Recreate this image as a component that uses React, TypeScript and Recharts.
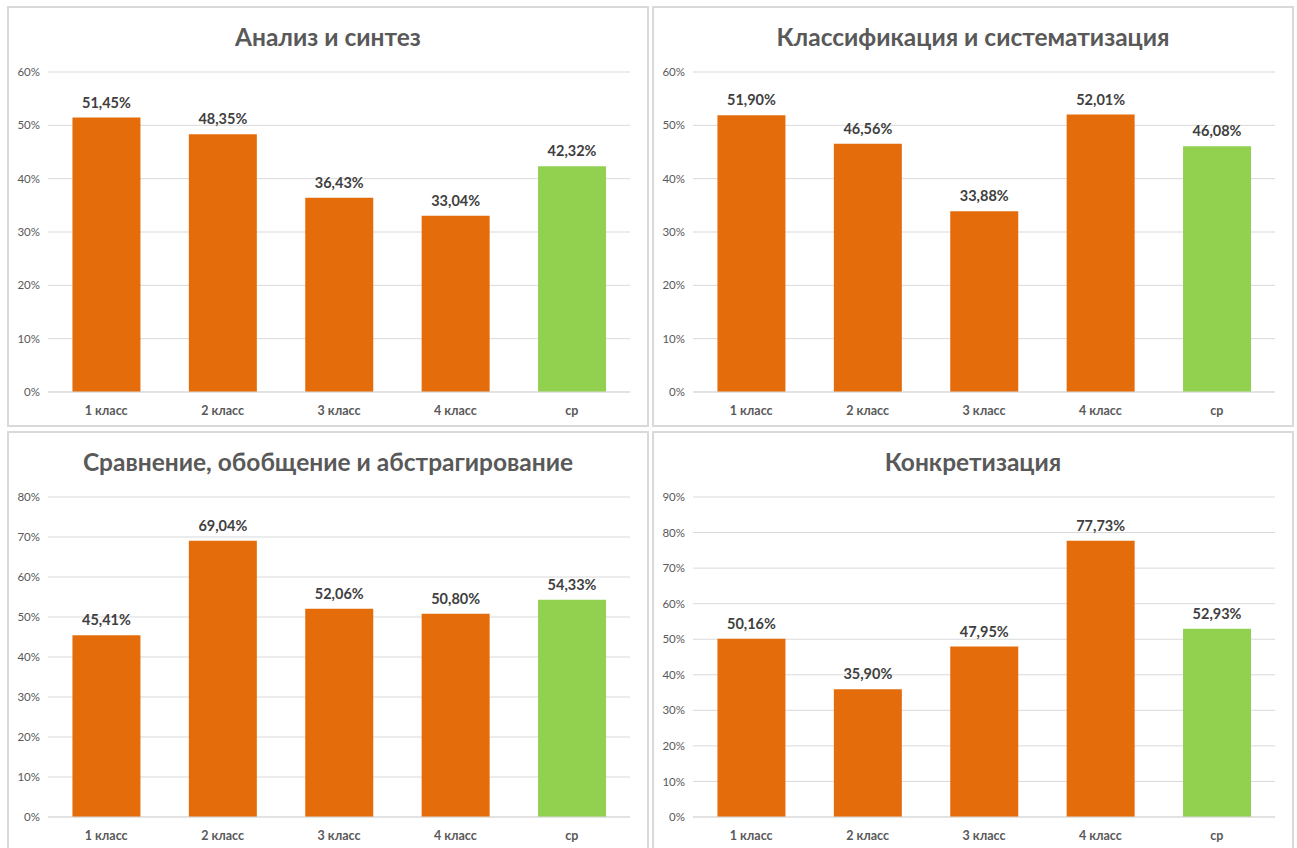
import { Bar, BarChart, CartesianGrid, Cell, LabelList, XAxis, YAxis } from "recharts";

const categories = ["1 класс", "2 класс", "3 класс", "4 класс", "ср"];

const titles = [
  "Анализ и синтез",
  "Классификация и систематизация",
  "Сравнение, обобщение и абстрагирование",
  "Конкретизация",
];

const analysis = [51.45, 48.35, 36.43, 33.04, 42.32];
const classification = [51.9, 46.56, 33.88, 52.01, 46.08];
const comparison = [45.41, 69.04, 52.06, 50.8, 54.33];
const concretization = [50.16, 35.9, 47.95, 77.73, 52.93];

const ticks60 = [0, 10, 20, 30, 40, 50, 60];
const ticks80 = [0, 10, 20, 30, 40, 50, 60, 70, 80];
const ticks90 = [0, 10, 20, 30, 40, 50, 60, 70, 80, 90];

const ORANGE = "#E46C0A";
const GREEN = "#92D050";
const FONT = "Lato, 'Open Sans', sans-serif";

const PANEL_W = 642;
const PANEL_H = 421;

function pct(v: number) {
  return v.toFixed(2).replace(".", ",") + "%";
}

function Panel({
  title,
  values,
  ticks,
  left,
  top,
}: {
  title: string;
  values: number[];
  ticks: number[];
  left: number;
  top: number;
}) {
  const data = categories.map((c, i) => ({ name: c, value: values[i] }));
  return (
    <div
      style={{
        position: "absolute",
        left,
        top,
        width: PANEL_W,
        height: PANEL_H,
        boxSizing: "border-box",
        border: "2px solid #d9d9d9",
        background: "#fff",
        fontFamily: FONT,
      }}
    >
      <div
        style={{
          position: "absolute",
          top: 14,
          left: 0,
          width: "100%",
          textAlign: "center",
          fontSize: 24.5,
          fontWeight: 700,
          color: "#595959",
          lineHeight: "30px",
        }}
      >
        {title}
      </div>
      <div style={{ position: "absolute", left: -2, top: -2 }}>
        <BarChart
          width={PANEL_W}
          height={PANEL_H}
          data={data}
          margin={{ top: 66, right: 19, left: 0, bottom: 5 }}
          barCategoryGap="21%"
        >
          <CartesianGrid vertical={false} stroke="#d9d9d9" />
          <XAxis
            dataKey="name"
            axisLine={{ stroke: "#d9d9d9" }}
            tickLine={false}
            tickMargin={8}
            tick={{ fontSize: 12.5, fontWeight: 700, fill: "#595959", fontFamily: FONT }}
            height={30}
          />
          <YAxis
            width={41}
            domain={[0, ticks[ticks.length - 1]]}
            ticks={ticks}
            tickFormatter={(v: number) => `${v}%`}
            axisLine={false}
            tickLine={false}
            tick={{ fontSize: 11.5, fill: "#595959", fontFamily: FONT }}
            interval={0}
          />
          <Bar dataKey="value" isAnimationActive={false}>
            {data.map((d, i) => (
              <Cell key={d.name} fill={i === data.length - 1 ? GREEN : ORANGE} />
            ))}
            <LabelList
              dataKey="value"
              position="top"
              offset={10}
              formatter={(v: number) => pct(v)}
              style={{ fontSize: 14.5, fontWeight: 700, fill: "#404040", fontFamily: FONT }}
            />
          </Bar>
        </BarChart>
      </div>
    </div>
  );
}

export default function App() {
  return (
    <div
      style={{
        position: "fixed",
        left: 0,
        top: 0,
        width: 1297,
        height: 848,
        overflow: "hidden",
        background: "#fff",
      }}
    >
      <Panel title={titles[0]} values={analysis} ticks={ticks60} left={7} top={6} />
      <Panel title={titles[1]} values={classification} ticks={ticks60} left={652} top={6} />
      <Panel title={titles[2]} values={comparison} ticks={ticks80} left={7} top={431} />
      <Panel title={titles[3]} values={concretization} ticks={ticks90} left={652} top={431} />
    </div>
  );
}
